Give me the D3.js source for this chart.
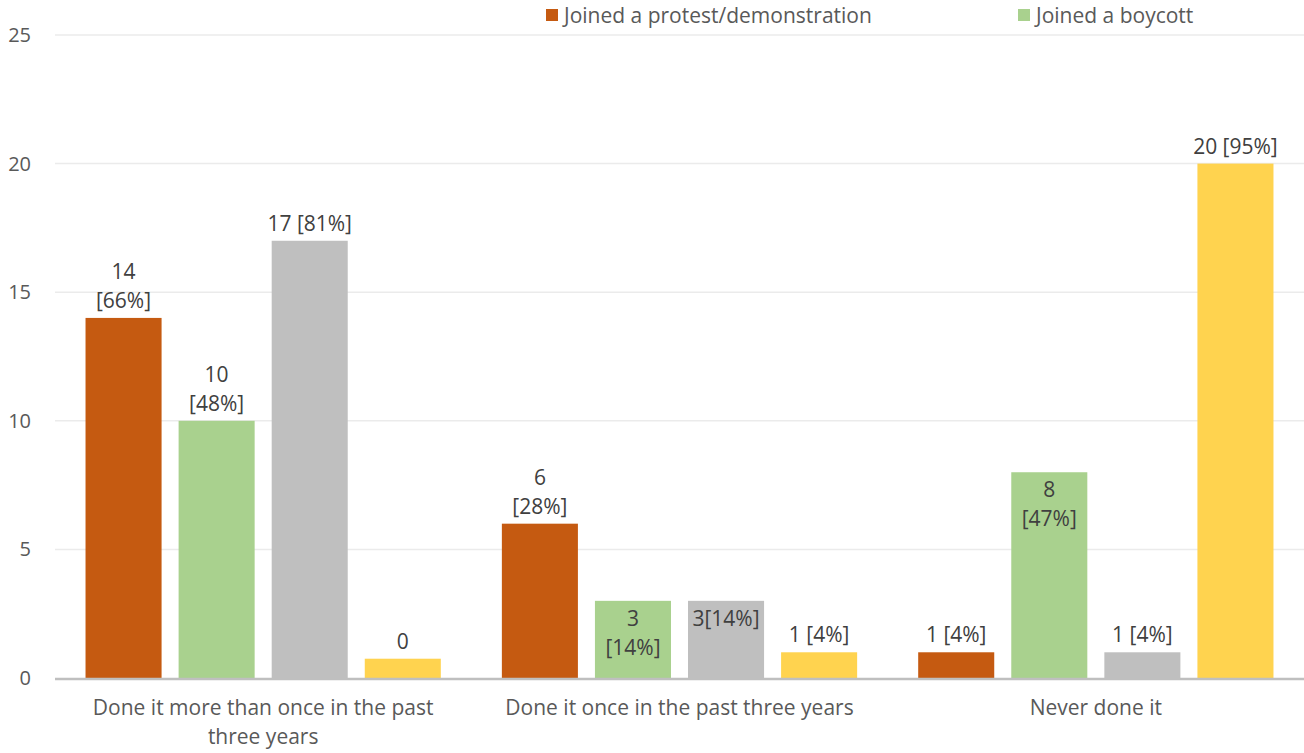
<html>
<head>
	<script src="https://d3js.org/d3.v7.min.js" charset="utf-8"></script>
	<style type="text/css">
	body { margin: 0; background: #fff; }
	svg { display: block; font-family: "Open Sans", sans-serif; }
	</style>
</head>
<body>
<script type="text/javascript">
	// chart data
	var categories = ["Done it more than once in the past three years", "Done it once in the past three years", "Never done it"];
	var seriesNames = ["Joined a protest/demonstration", "Joined a boycott", "", ""];
	var seriesColors = ["#C55A11", "#A9D18E", "#BFBFBF", "#FFD34F"];
	var protest = [14, 6, 1];
	var boycott = [10, 3, 8];
	var grey = [17, 3, 1];
	var yellow = [0.75, 1, 20];
	var protestLabels = [["14", "[66%]"], ["6", "[28%]"], ["1 [4%]"]];
	var boycottLabels = [["10", "[48%]"], ["3", "[14%]"], ["8", "[47%]"]];
	var greyLabels = [["17 [81%]"], ["3[14%]"], ["1 [4%]"]];
	var yellowLabels = [["0"], ["1 [4%]"], ["20 [95%]"]];
	// which labels sit inside the top of the bar
	var insideLabels = [[false, false, false], [false, true, true], [false, true, false], [false, false, false]];
	var yTicks = [0, 5, 10, 15, 20, 25];

	var series = [protest, boycott, grey, yellow];
	var labels = [protestLabels, boycottLabels, greyLabels, yellowLabels];

	var w = 1304;
	var h = 753;
	var mLeft = 55, mRight = 1304, mTop = 35, mBottom = 678;

	var svg = d3.select("body")
		.append("svg")
		.attr("width", w)
		.attr("height", h);

	var x0 = d3.scaleBand().domain(d3.range(categories.length)).range([mLeft, mRight]);
	var x1 = d3.scaleBand().domain(d3.range(series.length)).range([0, x0.bandwidth()])
		.paddingInner(0.183).paddingOuter(0.328);
	var y = d3.scaleLinear().domain([0, 25]).range([mBottom, mTop]);

	// gridlines
	svg.append("g").selectAll("line")
		.data(yTicks.slice(1))
		.enter().append("line")
		.attr("x1", mLeft).attr("x2", mRight)
		.attr("y1", function(d) { return y(d); })
		.attr("y2", function(d) { return y(d); })
		.attr("stroke", "#EBEBEB")
		.attr("stroke-width", 1.5);

	// y axis labels
	var yAxis = d3.axisLeft(y).tickValues(yTicks).tickSize(0).tickPadding(0);
	var ya = svg.append("g").attr("transform", "translate(31,0)").call(yAxis);
	ya.select(".domain").remove();
	ya.selectAll("text")
		.attr("fill", "#595959")
		.attr("font-size", 20)
		.attr("font-family", "Open Sans, sans-serif");

	// bars
	series.forEach(function(vals, s) {
		var g = svg.append("g");
		g.selectAll("rect")
			.data(vals)
			.enter().append("rect")
			.attr("x", function(d, i) { return x0(i) + x1(s); })
			.attr("y", function(d) { return y(d); })
			.attr("width", x1.bandwidth())
			.attr("height", function(d) { return y(0) - y(d); })
			.attr("fill", seriesColors[s]);
	});

	// baseline
	svg.append("line")
		.attr("x1", mLeft).attr("x2", mRight)
		.attr("y1", y(0) + 1).attr("y2", y(0) + 1)
		.attr("stroke", "#BFBFBF")
		.attr("stroke-width", 2.5);

	// data labels
	series.forEach(function(vals, s) {
		vals.forEach(function(v, i) {
			var lines = labels[s][i];
			var cx = x0(i) + x1(s) + x1.bandwidth() / 2;
			var inside = insideLabels[s][i];
			var firstY;
			if (inside) firstY = y(v) + 25;
			else firstY = y(v) - 10 - (lines.length - 1) * 29;
			var t = svg.append("text")
				.attr("text-anchor", "middle")
				.attr("font-size", 21)
				.attr("fill", "#404040");
			lines.forEach(function(l, k) {
				t.append("tspan").attr("x", cx).attr("y", firstY + k * 29).text(l);
			});
		});
	});

	// category labels
	var xAxis = d3.axisBottom(x0).tickFormat(function(i) { return categories[i]; }).tickSize(0).tickPadding(0);
	var xa = svg.append("g").attr("transform", "translate(0," + mBottom + ")").call(xAxis);
	xa.select(".domain").remove();
	xa.selectAll("text")
		.attr("fill", "#595959")
		.attr("font-size", 21)
		.attr("font-family", "Open Sans, sans-serif")
		.call(wrap, 380);

	function wrap(sel, width) {
		sel.each(function() {
			var text = d3.select(this);
			var words = text.text().split(" ");
			text.text(null).attr("y", null).attr("dy", null);
			var line = [];
			var tspan = text.append("tspan").attr("x", 0).attr("y", 37);
			words.forEach(function(word) {
				line.push(word);
				tspan.text(line.join(" "));
				if (tspan.node().getComputedTextLength() > width && line.length > 1) {
					line.pop();
					tspan.text(line.join(" "));
					line = [word];
					tspan = text.append("tspan").attr("x", 0).attr("dy", 29).text(word);
				}
			});
		});
	}

	// legend (only the first two entries fit in view)
	var legendX = [546, 1018];
	var lg = svg.append("g");
	[0, 1].forEach(function(s) {
		lg.append("rect")
			.attr("x", legendX[s]).attr("y", 9)
			.attr("width", 12).attr("height", 12)
			.attr("fill", seriesColors[s]);
		lg.append("text")
			.attr("x", legendX[s] + 18).attr("y", 23)
			.attr("font-size", 21)
			.attr("fill", "#595959")
			.text(seriesNames[s]);
	});
</script>
</body>
</html>
